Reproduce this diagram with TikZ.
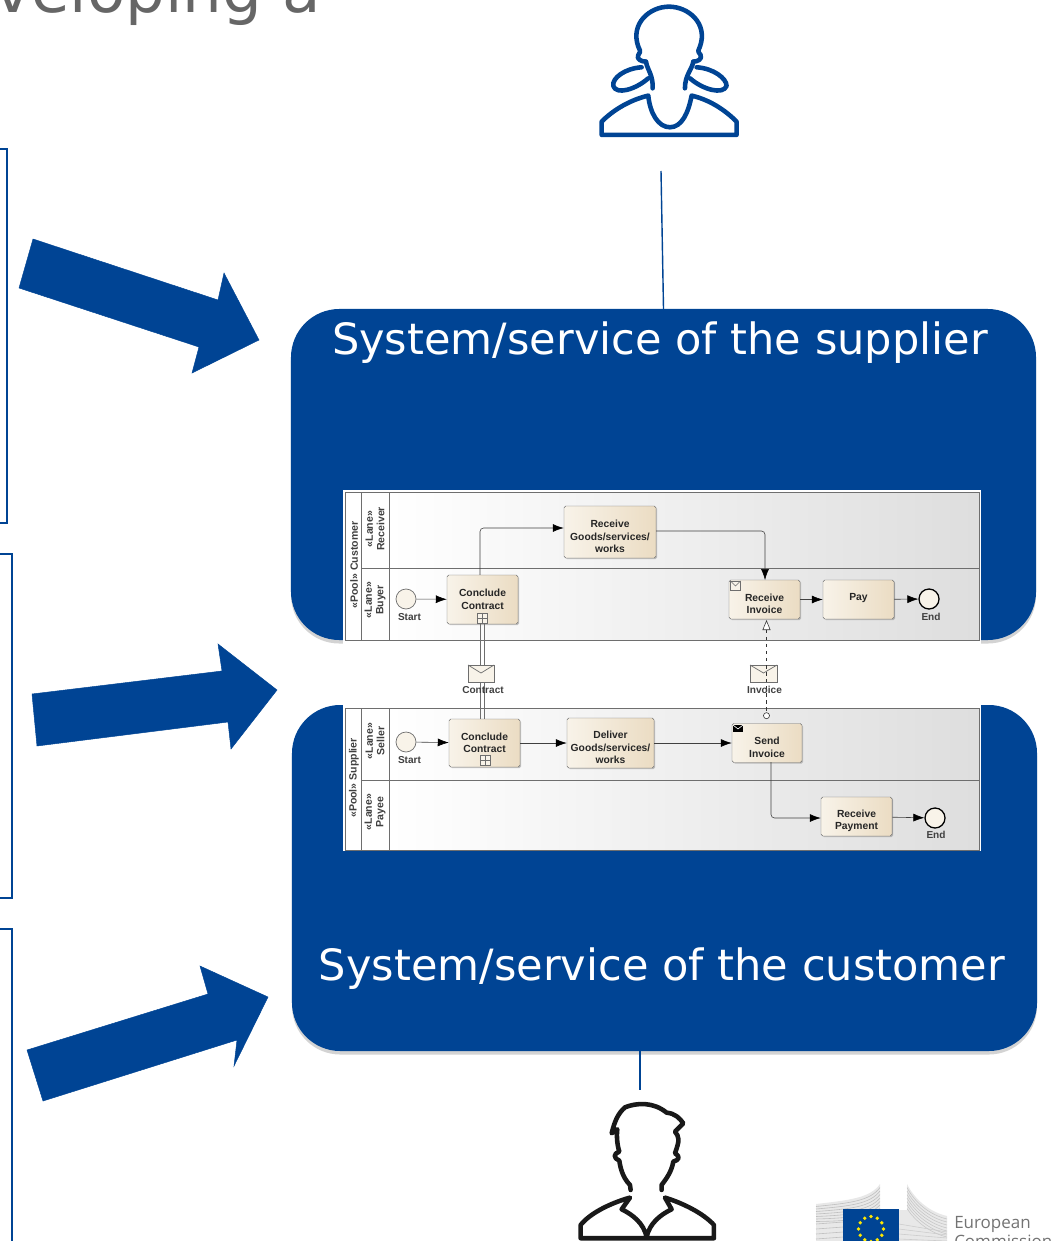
\documentclass[tikz,border=0pt]{standalone}
\usepackage{fontspec}
\setmainfont{DejaVu Sans}
\newfontfamily\diagfont{Liberation Sans}
\newfontfamily\logofont{Open Sans}
\usetikzlibrary{arrows.meta,shadows,fadings}
\definecolor{ecblue}{HTML}{004494}
\definecolor{taskA}{HTML}{F8F3E9}
\definecolor{taskB}{HTML}{EBDCC3}
\definecolor{laneline}{HTML}{6E6E6E}
\newcommand{\lowline}{\rule{0pt}{14pt}}
\tikzset{
	bluebox/.style={fill=ecblue, rounded corners=1.45cm, inner sep=0pt,
		drop shadow={shadow xshift=0pt, shadow yshift=-3pt, opacity=.35}},
	boxtitle/.style={text=white, font=\fontsize{36.8}{40}\selectfont, inner sep=0pt},
	task/.style={draw=laneline, rounded corners=1.5pt, left color=taskA, right color=taskB,
		align=center, inner sep=0pt, font=\diagfont\bfseries\fontsize{8.8}{10.6}\selectfont,
		text=black!85, drop shadow={shadow xshift=1pt, shadow yshift=-1pt, opacity=.45}},
	event/.style={draw=laneline, circle, fill=taskA, minimum size=.6cm, inner sep=0pt, line width=.6pt},
	endevent/.style={event, draw=black, line width=1.1pt},
	tag/.style={font=\diagfont\bfseries\fontsize{8.6}{9.6}\selectfont, text=black!75, inner sep=0pt, align=center},
	lanetag/.style={tag, rotate=90, font=\diagfont\bfseries\fontsize{9}{9.8}\selectfont},
	flow/.style={draw=black!75, line width=.5pt, rounded corners=3pt, -{Latex[length=.33cm,width=.24cm,black]}},
	msg/.style={draw=laneline, fill=taskA, line width=.6pt},
	bigarrow/.style={fill=ecblue, draw=ecblue},
	frame/.style={draw=ecblue, line width=1pt},
	wire/.style={draw=ecblue, line width=1.2pt},
	icon/.style={line width=3.9pt, line cap=round, line join=round},
}
\begin{document}
\begin{tikzpicture}[x=.03cm, y=-.03cm]
	\useasboundingbox (0,0) rectangle (1051,1241);
	\clip (0,0) rectangle (1051,1241);

	% slide title, cut off by the crop
	\node[anchor=base west, inner sep=0pt, text=black!60, font=\fontsize{53.5}{56}\selectfont] (Title) at (-6,13) {veloping a};

	% frames at the left edge
	\draw[frame] (-10,149) -- (7,149) -- (7,523) -- (-10,523);
	\draw[frame] (-10,554) -- (12,554) -- (12,898) -- (-10,898);
	\draw[frame] (-10,929) -- (12,929) -- (12,1260);

	% block arrows
	\fill[bigarrow] (33,239) -- (218,300) -- (224,273) -- (259,340) -- (192,373) -- (199,347) -- (19,288) -- cycle;
	\fill[bigarrow] (32,694) -- (222,671) -- (218,644) -- (277,690) -- (231,749) -- (228,722) -- (37,746) -- cycle;
	\fill[bigarrow] (27,1050) -- (208,994) -- (200,966) -- (268,997) -- (234,1066) -- (237,1040) -- (43,1101) -- cycle;

	% the two systems
	\node[bluebox, minimum width=22.35cm, minimum height=9.93cm] (Supplier) at (663.5,474.5) {};
	\node[bluebox, minimum width=22.35cm, minimum height=10.38cm] (Customer) at (664.5,878) {};
	\node[boxtitle] (SupplierTitle) at (660,343) {System/service of the supplier};
	\node[boxtitle] (CustomerTitle) at (662,969) {System/service of the customer};

	\coordinate (WomanFoot) at (661,171);
	\coordinate (ManHead) at (640,1090);
	\coordinate (CustomerFoot) at (640,1051);
	\draw[wire] (WomanFoot) -- (Supplier.north);
	\draw[wire] (CustomerFoot) -- (ManHead);

	% process picture
	\fill[white] (343,490) rectangle (981,851);
	\shade[left color=white, right color=black!13] (389,492) rectangle (979,640);
	\shade[left color=white, right color=black!13] (389,708) rectangle (979,850);
	\draw[laneline, line width=.8pt] (345,492) rectangle (979,640);
	\draw[laneline, line width=.8pt] (345,708) rectangle (979,850);
	\draw[laneline, line width=.7pt] (361,492) -- (361,640) (389,492) -- (389,640) (361,568) -- (979,568);
	\draw[laneline, line width=.7pt] (361,708) -- (361,850) (389,708) -- (389,850) (361,780) -- (979,780);

	\node[lanetag] (PoolCustomer) at (354,565) {«Pool» Customer};
	\node[lanetag] (LaneReceiver) at (375,529) {«Lane»\\Receiver};
	\node[lanetag] (LaneBuyer) at (375,600) {«Lane»\\Buyer};
	\node[lanetag] (PoolSupplier) at (354,778) {«Pool» Supplier};
	\node[lanetag] (LaneSeller) at (375,741) {«Lane»\\Seller};
	\node[lanetag] (LanePayee) at (375,812) {«Lane»\\Payee};

	% customer pool
	\node[event] (StartC) at (406,599) {};
	\node[tag] (StartCTag) at (409.5,617) {Start};
	\node[task, minimum width=2.13cm, minimum height=1.47cm] (ConcludeC) at (482.5,599.5) {Conclude\\Contract};
	\node[task, minimum width=2.76cm, minimum height=1.56cm] (ReceiveGoods) at (610,532) {\lowline Receive\\Goods/services/\\works};
	\node[task, minimum width=2.13cm, minimum height=1.17cm] (ReceiveInvoice) at (764.5,599.5) {\lowline Receive\\Invoice};
	\node[task, text depth=5pt, minimum width=2.13cm, minimum height=1.17cm] (Pay) at (858.5,599.5) {Pay};
	\node[endevent] (EndC) at (929,599) {};
	\node[tag] (EndCTag) at (931,617) {End};

	% supplier pool
	\node[event] (StartS) at (406,742) {};
	\node[tag] (StartSTag) at (409.5,760) {Start};
	\node[task, minimum width=2.13cm, minimum height=1.44cm] (ConcludeS) at (484.5,743) {Conclude\\Contract};
	\node[task, minimum width=2.61cm, minimum height=1.5cm] (Deliver) at (610.5,743) {\lowline Deliver\\Goods/services/\\works};
	\node[task, minimum width=2.1cm, minimum height=1.17cm] (SendInvoice) at (767,743) {\lowline Send\\Invoice};
	\node[task, minimum width=2.13cm, minimum height=1.17cm] (ReceivePayment) at (856.5,816.5) {\lowline Receive\\Payment};
	\node[endevent] (EndS) at (935,818) {};
	\node[tag] (EndSTag) at (936,835) {End};

	% subprocess markers
	\node[draw=laneline, fill=taskA, minimum size=.3cm, inner sep=0pt] (PlusC) at (482,618) {};
	\node[draw=laneline, fill=taskA, minimum size=.3cm, inner sep=0pt] (PlusS) at (485,760) {};
	\draw[laneline, line width=.4pt] (PlusC.west) -- (PlusC.east) (PlusC.north) -- (PlusC.south);
	\draw[laneline, line width=.4pt] (PlusS.west) -- (PlusS.east) (PlusS.north) -- (PlusS.south);

	% message flows
	\draw[laneline, line width=.6pt] (480.5,623) -- (480.5,719) (484.5,623) -- (484.5,719);
	\coordinate (ThrowDot) at (766.5,719);
	\coordinate (CatchTip) at (766.5,620);
	\draw[black!80, dashed, line width=.5pt, {Triangle[open,fill=white,length=.3cm,width=.24cm]}-{Circle[open,fill=white,length=.2cm]}] (CatchTip) -- (ThrowDot);

	% envelopes
	\draw[msg] (468,665) rectangle (494,682);
	\draw[laneline, line width=.6pt] (468,665) -- (481,673) -- (494,665);
	\draw[msg] (750,665) rectangle (777,682);
	\draw[laneline, line width=.6pt] (750,665) -- (763.5,673) -- (777,665);
	\draw[black!80, dashed, line width=.5pt] (766.5,665) -- (766.5,682);
	\node[tag] (ContractTag) at (483,690) {Contract};
	\node[tag] (InvoiceTag) at (764.5,690) {Invoice};

	% task corner icons
	\draw[msg, line width=.4pt] (730.5,581) rectangle (740.5,590);
	\draw[laneline, line width=.4pt] (730.5,581) -- (735.5,586) -- (740.5,581);
	\fill[black] (733,724.5) rectangle (743,732);
	\draw[white, line width=.5pt] (733,725) -- (738,729) -- (743,725);

	% sequence flows
	\draw[flow] (StartC) -- (ConcludeC);
	\draw[flow] (ConcludeC.north -| 480,575) -- (480,528) -- (ReceiveGoods.west |- 480,528);
	\draw[flow] (ReceiveGoods.east |- 656,531) -- (765,531) -- (765,580);
	\draw[flow] (ReceiveInvoice) -- (Pay);
	\draw[flow] (Pay) -- (EndC);
	\draw[flow] (StartS) -- (ConcludeS);
	\draw[flow] (ConcludeS) -- (Deliver);
	\draw[flow] (Deliver) -- (SendInvoice);
	\draw[flow] (771,762) -- (771,818) -- (ReceivePayment.west |- 771,818);
	\draw[flow] (ReceivePayment) -- (EndS);

	% woman
	\begin{scope}[shift={(570,0)}, x=.01cm, y=-.01cm, icon, draw=ecblue]
		\draw (228,185) .. controls (215,185) and (198,178) .. (205,165) .. controls (215,152) and (208,150) .. (205,140)
			.. controls (180,70) and (240,20) .. (297,20) .. controls (355,20) and (415,70) .. (390,140)
			.. controls (387,150) and (380,152) .. (392,165) .. controls (398,178) and (382,185) .. (370,185);
		\draw (228,185) .. controls (232,210) and (250,225) .. (248,265);
		\draw (370,185) .. controls (366,210) and (345,225) .. (345,265);
		\draw (215,202) .. controls (165,205) and (125,235) .. (130,258) .. controls (138,285) and (195,270) .. (235,235);
		\draw (380,202) .. controls (430,205) and (470,235) .. (470,258) .. controls (460,285) and (400,270) .. (360,235);
		\draw (235,287) .. controls (180,300) and (130,330) .. (95,365) -- (95,405) -- (500,405) -- (500,365)
			.. controls (465,330) and (420,300) .. (365,287) .. controls (355,340) and (335,382) .. (300,382)
			.. controls (265,382) and (240,340) .. (235,287) -- cycle;
	\end{scope}

	% man
	\begin{scope}[shift={(560,1090)}, x=.01cm, y=-.01cm, icon, draw=black!90]
		\draw (212,300) -- (210,285) .. controls (185,260) and (180,225) .. (178,212) .. controls (160,205) and (160,190) .. (178,185)
			.. controls (170,160) and (170,130) .. (172,118) -- (155,130) .. controls (165,90) and (175,70) .. (195,52)
			.. controls (230,38) and (280,35) .. (320,68) .. controls (345,70) and (360,85) .. (370,100) -- (345,125)
			.. controls (358,140) and (360,150) .. (345,190) .. controls (362,200) and (358,210) .. (340,215)
			.. controls (335,245) and (320,265) .. (305,285) -- (305,300);
		\draw (210,323) .. controls (150,340) and (90,370) .. (62,405) -- (62,445) -- (462,445) -- (462,405)
			.. controls (430,370) and (370,340) .. (315,323) -- (335,358) .. controls (300,375) and (270,400) .. (260,440)
			.. controls (250,400) and (220,375) .. (185,358) -- cycle;
	\end{scope}

	% logo
	\fill[black!9] (816,1204) .. controls (850,1200) and (870,1198) .. (880,1184) -- (880,1210) -- (843,1210) -- (843,1241) -- (816,1241) -- cycle;
	\fill[black!9] (907,1184) .. controls (915,1200) and (930,1212) .. (947,1216) -- (947,1241) -- (899,1241) -- (899,1210) -- (907,1210) -- cycle;
	\foreach \k in {1,...,7} {
		\draw[black!25, line width=.5pt] (816,1204+\k*2.5) .. controls (850,1200+\k*3) and (870,1198+\k*3) .. (880,1184+\k*3.5);
		\draw[black!22, line width=.5pt] (907,1184+\k*3.5) .. controls (915,1200+\k*3) and (930,1212+\k*3) .. (947,1216+\k*3);
	}
	\foreach \k in {0,...,3} {
		\draw[black!25, line width=.5pt] (816,1224+\k*5) -- (843,1222+\k*5);
		\draw[black!20, line width=.5pt] (899,1224+\k*5) -- (947,1232+\k*3);
	}
	\fill[ecblue] (843,1209) rectangle (899,1245);
	\foreach \a in {0,30,...,330} \fill[yellow!90!orange] (871,1229) ++(\a:12.5) circle (1.9);
	\node[anchor=base west, inner sep=0pt, text=black!55, font=\logofont\fontsize{14.5}{17}\selectfont] (LogoA) at (954,1228) {European};
	\node[anchor=base west, inner sep=0pt, text=black!55, font=\logofont\fontsize{14.5}{17}\selectfont] (LogoB) at (954,1247) {Commission};
\end{tikzpicture}
\end{document}
